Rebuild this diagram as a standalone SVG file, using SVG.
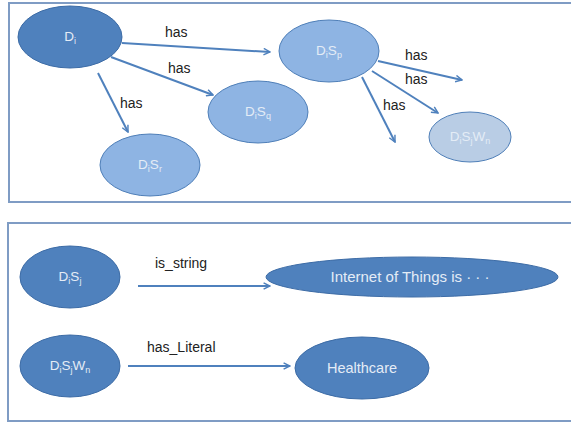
<svg xmlns="http://www.w3.org/2000/svg" width="571" height="423" viewBox="0 0 571 423">
<defs>
<marker id="ah" viewBox="0 0 10 10" refX="9" refY="5" markerWidth="8" markerHeight="8" markerUnits="userSpaceOnUse" orient="auto">
<path d="M1,1 L9,5 L1,9" fill="none" stroke="#4f81bd" stroke-width="1.8"/>
</marker>
<style>
.frame{fill:#fff;stroke:#7f9cc4;stroke-width:2}
.dark{fill:#4f81bd;stroke:#3d6ca6;stroke-width:1}
.mid{fill:#8eb4e3;stroke:#4f7fb8;stroke-width:1}
.light{fill:#b9cde5;stroke:#4f7fb8;stroke-width:1}
.nt{font-family:"Liberation Sans",Arial,sans-serif;font-size:13.5px;fill:#e4ecf6;text-anchor:middle}
.sub{font-size:9px}
.lbl{font-family:"Liberation Sans",Arial,sans-serif;font-size:14px;fill:#222}
.con line{stroke:#4f81bd;stroke-width:2;marker-end:url(#ah)}
</style>
</defs>
<rect x="0" y="0" width="571" height="423" fill="#fff"/>
<rect class="frame" x="9" y="3" width="570" height="199"/>
<rect class="frame" x="8" y="223" width="570" height="198"/>

<g id="Di"><ellipse class="dark" cx="70" cy="37" rx="52" ry="31"/><text class="nt" x="70" y="41">D<tspan class="sub" dy="3">i</tspan></text></g>
<g id="DiSp"><ellipse class="mid" cx="329" cy="51" rx="50" ry="31"/><text class="nt" x="329" y="55">D<tspan class="sub" dy="3">i</tspan><tspan dy="-3">S</tspan><tspan class="sub" dy="3">p</tspan></text></g>
<g id="DiSq"><ellipse class="mid" cx="258" cy="112" rx="50" ry="31"/><text class="nt" x="258" y="116">D<tspan class="sub" dy="3">i</tspan><tspan dy="-3">S</tspan><tspan class="sub" dy="3">q</tspan></text></g>
<g id="DiSr"><ellipse class="mid" cx="150" cy="165" rx="50" ry="31"/><text class="nt" x="150" y="169">D<tspan class="sub" dy="3">i</tspan><tspan dy="-3">S</tspan><tspan class="sub" dy="3">r</tspan></text></g>
<g id="DiSjWn"><ellipse class="light" cx="470" cy="137" rx="41" ry="25"/><text class="nt" x="470" y="141">D<tspan class="sub" dy="3">i</tspan><tspan dy="-3">S</tspan><tspan class="sub" dy="3">j</tspan><tspan dy="-3">W</tspan><tspan class="sub" dy="3">n</tspan></text></g>

<g id="DiSj2"><ellipse class="dark" cx="70" cy="277" rx="50" ry="31"/><text class="nt" x="70" y="281">D<tspan class="sub" dy="3">i</tspan><tspan dy="-3">S</tspan><tspan class="sub" dy="3">j</tspan></text></g>
<g id="DiSjWn2"><ellipse class="dark" cx="70" cy="366" rx="50" ry="31"/><text class="nt" x="70" y="370">D<tspan class="sub" dy="3">i</tspan><tspan dy="-3">S</tspan><tspan class="sub" dy="3">j</tspan><tspan dy="-3">W</tspan><tspan class="sub" dy="3">n</tspan></text></g>
<g id="IoT"><ellipse class="dark" cx="412" cy="277" rx="146" ry="20"/><text class="nt" x="410" y="282" style="font-size:15px">Internet of Things is  ·  ·  ·</text></g>
<g id="Healthcare"><ellipse class="dark" cx="362" cy="368" rx="67" ry="31"/><text class="nt" x="362" y="373" style="font-size:14.5px">Healthcare</text></g>

<g id="connectors" class="con">
<line x1="122" y1="43" x2="270" y2="52"/>
<line x1="111" y1="57" x2="213" y2="95"/>
<line x1="98" y1="73" x2="128" y2="132"/>
<line x1="378" y1="61" x2="462" y2="80"/>
<line x1="372" y1="71" x2="438" y2="113"/>
<line x1="362" y1="77" x2="395" y2="142"/>
<line x1="138" y1="286" x2="270" y2="286"/>
<line x1="128" y1="366" x2="290" y2="366"/>
</g>
<g id="labels" class="lbl">
<text x="165" y="37">has</text>
<text x="168" y="73">has</text>
<text x="120" y="108">has</text>
<text x="405" y="60">has</text>
<text x="405" y="84">has</text>
<text x="383" y="110">has</text>
<text x="155" y="268">is_string</text>
<text x="147" y="352">has_Literal</text>
</g>
</svg>
